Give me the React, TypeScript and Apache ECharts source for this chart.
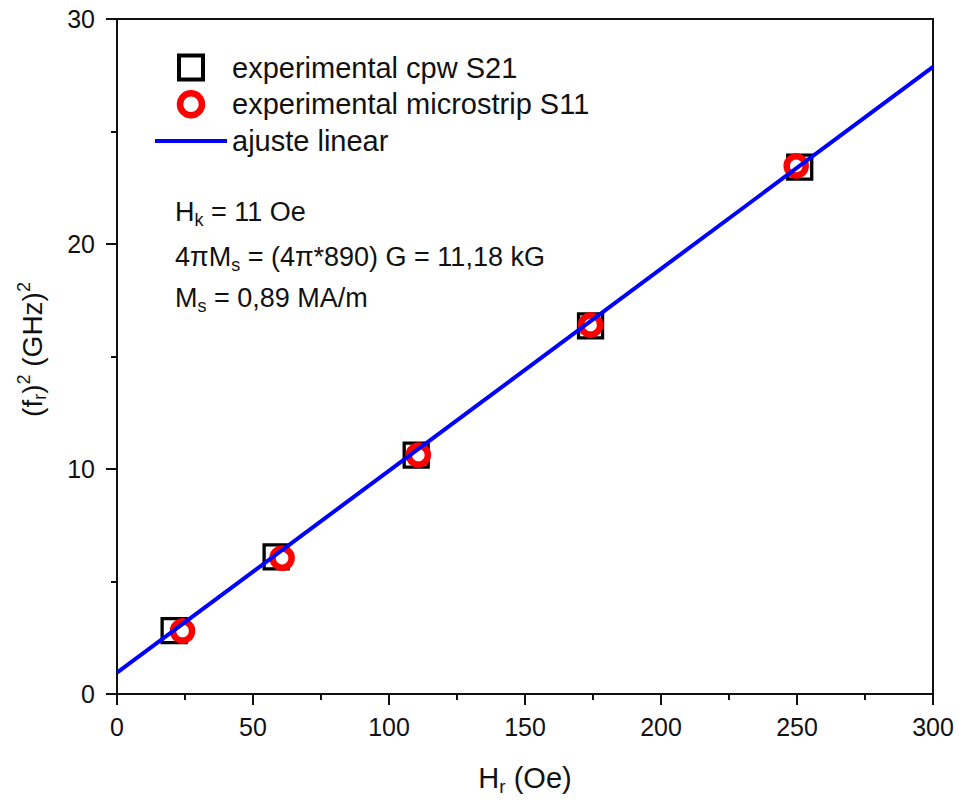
import React, { useEffect, useRef } from "react";
import * as echarts from "echarts";

// Data
const cpwX = [21.0, 58.5, 110.0, 174.1, 251.0];
const cpwY = [2.82, 6.09, 10.62, 16.36, 23.42];
const microX = [24.1, 60.7, 110.8, 174.1, 249.7];
const microY = [2.8, 6.04, 10.62, 16.4, 23.47];
const fitX = [0, 300];
const fitY = [0.95, 27.87];
const seriesNames = ["experimental cpw S21", "experimental microstrip S11", "ajuste linear"];
const annotationLines = [
  "{a|H}{s|k}{a| = 11 Oe}",
  "{a|4\u03c0M}{s|s}{a| = (4\u03c0*890) G = 11,18 kG}",
  "{a|M}{s|s}{a| = 0,89 MA/m}",
];
const xAxisName = "{a|H}{s|r}{a| (Oe)}";
const yAxisName = "{a|(f}{s|r}{a|)}{p|2}{a| (GHz)}{p|2}";

const FONT = "'Liberation Sans', Arial, Helvetica, sans-serif";

const zip = (xs: number[], ys: number[]) => xs.map((x, i) => [x, ys[i]]);

export default function App() {
  const ref = useRef<HTMLDivElement>(null);
  useEffect(() => {
    if (!ref.current) return;
    const chart = echarts.init(ref.current, null, { renderer: "svg" });
    const xNameRich = {
      a: { fontSize: 29, lineHeight: 34, fontFamily: FONT, color: "#111" },
      s: { fontSize: 19, lineHeight: 19, padding: [16, 0, 0, 0], fontFamily: FONT, color: "#111" },
    };
    const yNameRich = {
      a: { fontSize: 28, lineHeight: 34, fontFamily: FONT, color: "#111" },
      s: { fontSize: 18, lineHeight: 18, padding: [16, 0, 0, 0], fontFamily: FONT, color: "#111" },
      p: { fontSize: 18, lineHeight: 18, padding: [0, 0, 16, 0], fontFamily: FONT, color: "#111" },
    };
    const annRich = {
      a: { fontSize: 27, lineHeight: 32, fontFamily: FONT, fill: "#111", color: "#111" },
      s: { fontSize: 18, lineHeight: 18, padding: [15, 0, 0, 0], fontFamily: FONT, fill: "#111", color: "#111" },
    };
    const annY = [212, 257, 298];
    chart.setOption({
      animation: false,
      backgroundColor: "#fff",
      grid: {
        left: 117,
        right: 26,
        top: 19,
        bottom: 108,
        show: true,
        borderColor: "#111",
        borderWidth: 2,
        backgroundColor: "transparent",
      },
      legend: {
        orient: "vertical",
        left: 150,
        top: 48,
        itemWidth: 72,
        itemHeight: 24,
        itemGap: 7,
        selectedMode: false,
        data: [
          {
            name: seriesNames[0],
            icon: "path://M0,0 H24 V24 H0 Z",
            itemStyle: { color: "#fff", borderColor: "#000", borderWidth: 4 },
          },
          {
            name: seriesNames[1],
            icon: "path://M0,0 M24,24 M23,12 A11,11 0 1,1 1,12 A11,11 0 1,1 23,12 Z",
            itemStyle: { color: "#fff", borderColor: "#ff0000", borderWidth: 6.5 },
          },
          {
            name: seriesNames[2],
            icon: "path://M0,0 H72 V4 H0 Z",
            itemStyle: { color: "#0000ff", borderWidth: 0 },
          },
        ],
        textStyle: { fontSize: 29, fontFamily: FONT, color: "#111" },
      },
      xAxis: {
        type: "value",
        min: 0,
        max: 300,
        interval: 50,
        name: xAxisName,
        nameLocation: "middle",
        nameGap: 67,
        nameTextStyle: { rich: xNameRich },
        axisLine: { show: true, lineStyle: { color: "#111", width: 2 } },
        axisTick: { show: true, inside: false, length: 11, lineStyle: { color: "#111", width: 2 } },
        minorTick: { show: true, splitNumber: 2, length: 6, lineStyle: { color: "#111", width: 2 } },
        axisLabel: { fontSize: 25, fontFamily: FONT, color: "#111", margin: 20 },
        splitLine: { show: false },
      },
      yAxis: {
        type: "value",
        min: 0,
        max: 30,
        interval: 10,
        name: yAxisName,
        nameLocation: "middle",
        nameGap: 68,
        nameRotate: 90,
        nameTextStyle: { rich: yNameRich, padding: [0, 0, 0, 14] },
        axisLine: { show: true, lineStyle: { color: "#111", width: 2 } },
        axisTick: { show: true, inside: false, length: 11, lineStyle: { color: "#111", width: 2 } },
        minorTick: { show: true, splitNumber: 2, length: 6, lineStyle: { color: "#111", width: 2 } },
        axisLabel: { fontSize: 25, fontFamily: FONT, color: "#111", margin: 22 },
        splitLine: { show: false },
      },
      series: [
        {
          name: seriesNames[0],
          type: "scatter",
          symbol: "rect",
          symbolSize: 24,
          data: zip(cpwX, cpwY),
          itemStyle: { color: "#fff", borderColor: "#000", borderWidth: 3.3, opacity: 1 },
          z: 2,
        },
        {
          name: seriesNames[1],
          type: "scatter",
          symbol: "circle",
          symbolSize: 19,
          data: zip(microX, microY),
          itemStyle: { color: "#fff", borderColor: "#ff0000", borderWidth: 6.5, opacity: 1 },
          z: 3,
        },
        {
          name: seriesNames[2],
          type: "line",
          symbol: "none",
          data: zip(fitX, fitY),
          lineStyle: { color: "#0000ff", width: 4 },
          itemStyle: { color: "#0000ff" },
          z: 4,
        },
      ],
      graphic: annotationLines.map((t, i) => ({
        type: "text",
        x: 175,
        y: annY[i],
        z: 10,
        style: {
          text: t,
          rich: annRich,
          fontSize: 27,
          fontFamily: FONT,
          fill: "#111",
          verticalAlign: "middle",
          align: "left",
        },
      })),
    });
    return () => chart.dispose();
  }, []);
  return (
    <div
      ref={ref}
      style={{ position: "absolute", left: 0, top: 0, width: 959, height: 802, background: "#fff" }}
    />
  );
}
